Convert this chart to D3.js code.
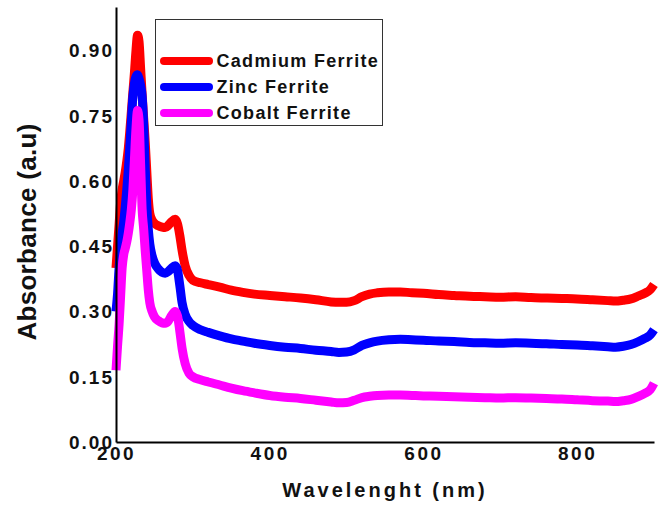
<!DOCTYPE html>
<html>
<head>
<meta charset="utf-8">
<script src="https://cdn.jsdelivr.net/npm/d3@7"></script>
<style>
  html, body { margin: 0; padding: 0; background: #fff; }
  svg { display: block; }
  text { font-family: "Liberation Sans", Arial, sans-serif; font-weight: bold; fill: #111; }
</style>
</head>
<body>
<svg id="chart" width="665" height="510"></svg>
<script>
// ---- data ----
const wavelength = [200,202,204,206,208,210,212,214,216,218,220,222,224,226,228,230,232,234,236,238,240,242,244,247,250,255,260,264,268,272,277,280,283,286,290,295,300,310,320,335,350,365,380,400,420,440,460,480,490,500,510,520,530,540,555,570,585,600,620,640,660,680,700,720,740,760,780,800,820,840,850,860,870,880,888,895,900];

const cadmium = [0.40,0.45,0.50,0.55,0.58,0.60,0.62,0.645,0.675,0.715,0.76,0.805,0.85,0.90,0.935,0.92,0.86,0.80,0.745,0.69,0.625,0.56,0.525,0.51,0.503,0.497,0.494,0.493,0.498,0.506,0.512,0.502,0.475,0.44,0.405,0.383,0.372,0.366,0.362,0.356,0.349,0.344,0.340,0.337,0.334,0.331,0.327,0.322,0.321,0.321,0.325,0.334,0.340,0.343,0.345,0.345,0.343,0.342,0.339,0.337,0.335,0.334,0.333,0.334,0.332,0.331,0.330,0.329,0.327,0.325,0.324,0.326,0.329,0.336,0.342,0.350,0.362];

const zinc = [0.30,0.34,0.40,0.445,0.48,0.505,0.54,0.58,0.625,0.68,0.74,0.795,0.825,0.84,0.844,0.835,0.82,0.795,0.73,0.63,0.545,0.49,0.455,0.428,0.412,0.398,0.390,0.388,0.392,0.399,0.405,0.395,0.36,0.32,0.293,0.277,0.268,0.258,0.252,0.244,0.237,0.232,0.227,0.222,0.218,0.215,0.211,0.208,0.206,0.207,0.212,0.222,0.228,0.232,0.235,0.236,0.235,0.234,0.232,0.231,0.229,0.228,0.227,0.228,0.227,0.226,0.224,0.223,0.221,0.219,0.218,0.220,0.224,0.231,0.238,0.246,0.258];

const cobalt = [0.165,0.22,0.27,0.335,0.40,0.43,0.445,0.46,0.48,0.505,0.535,0.58,0.65,0.72,0.762,0.74,0.64,0.535,0.49,0.44,0.395,0.35,0.32,0.30,0.288,0.279,0.274,0.273,0.278,0.29,0.30,0.29,0.255,0.215,0.18,0.158,0.15,0.143,0.138,0.131,0.124,0.118,0.113,0.107,0.103,0.100,0.096,0.092,0.090,0.091,0.096,0.102,0.105,0.107,0.108,0.108,0.107,0.106,0.105,0.104,0.103,0.102,0.101,0.102,0.101,0.100,0.099,0.097,0.095,0.094,0.093,0.095,0.098,0.105,0.112,0.120,0.135];

const seriesNames = ["Cadmium Ferrite", "Zinc Ferrite", "Cobalt Ferrite"];
const seriesColors = ["#ff0000", "#0000ff", "#ff00ff"];
const seriesValues = [cadmium, zinc, cobalt];

const xTicks = [200, 400, 600, 800];
const yTicks = [0.00, 0.15, 0.30, 0.45, 0.60, 0.75, 0.90];
const xTitle = "Wavelenght (nm)";
const yTitle = "Absorbance (a.u)";

// ---- chart ----
const svg = d3.select("#chart");
const x = d3.scaleLinear().domain([200, 900]).range([116, 654]);
const y = d3.scaleLinear().domain([0, 1.0]).range([442, 7]);

const line = d3.line()
  .x(d => x(d[0]))
  .y(d => y(d[1]))
  .curve(d3.curveMonotoneX);

const plot = svg.append("g");
seriesValues.forEach((vals, i) => {
  const pts = wavelength.map((w, j) => [w, vals[j]]);
  plot.append("path")
    .datum(pts)
    .attr("d", line)
    .attr("fill", "none")
    .attr("stroke", seriesColors[i])
    .attr("stroke-width", 9)
    .attr("stroke-linejoin", "round");
});

// axes
const yAxis = svg.append("g")
  .attr("transform", "translate(116,0)")
  .call(d3.axisLeft(y).tickValues(yTicks).tickSize(0).tickSizeOuter(0).tickPadding(2).tickFormat(d3.format(".2f")));
yAxis.select(".domain").attr("stroke", "#000").attr("stroke-width", 2);
yAxis.selectAll("text")
  .style("font-family", "'Liberation Sans', Arial, sans-serif")
  .style("font-weight", "bold")
  .style("font-size", "19px")
  .style("letter-spacing", "2px")
  .attr("fill", "#111")
  .attr("dy", "0.34em");

const xAxis = svg.append("g")
  .attr("transform", "translate(0,442)")
  .call(d3.axisBottom(x).tickValues(xTicks).tickSize(0).tickSizeOuter(0).tickPadding(5));
xAxis.select(".domain").attr("stroke", "#000").attr("stroke-width", 2);
xAxis.selectAll("text")
  .style("font-family", "'Liberation Sans', Arial, sans-serif")
  .style("font-weight", "bold")
  .style("font-size", "19px")
  .style("letter-spacing", "2.5px")
  .attr("fill", "#111");

// titles
svg.append("text")
  .attr("transform", "translate(36,232) rotate(-90)")
  .attr("text-anchor", "middle")
  .style("font-size", "26px")
  .style("letter-spacing", "0.3px")
  .text(yTitle);

svg.append("text")
  .attr("x", 385)
  .attr("y", 497)
  .attr("text-anchor", "middle")
  .style("font-size", "20px")
  .style("letter-spacing", "3px")
  .text(xTitle);

// legend
const legend = svg.append("g");
legend.append("rect")
  .attr("x", 155.5).attr("y", 19.5)
  .attr("width", 227).attr("height", 106)
  .attr("fill", "#fff")
  .attr("stroke", "#333")
  .attr("stroke-width", 1);
const legendY = [61, 87, 113];
seriesNames.forEach((name, i) => {
  legend.append("line")
    .attr("x1", 164).attr("x2", 209)
    .attr("y1", legendY[i]).attr("y2", legendY[i])
    .attr("stroke", seriesColors[i])
    .attr("stroke-width", 8)
    .attr("stroke-linecap", "round");
  legend.append("text")
    .attr("x", 216.5)
    .attr("y", legendY[i] + 6)
    .style("font-size", "18px")
    .style("letter-spacing", "1.3px")
    .text(name);
});
</script>
</body>
</html>
